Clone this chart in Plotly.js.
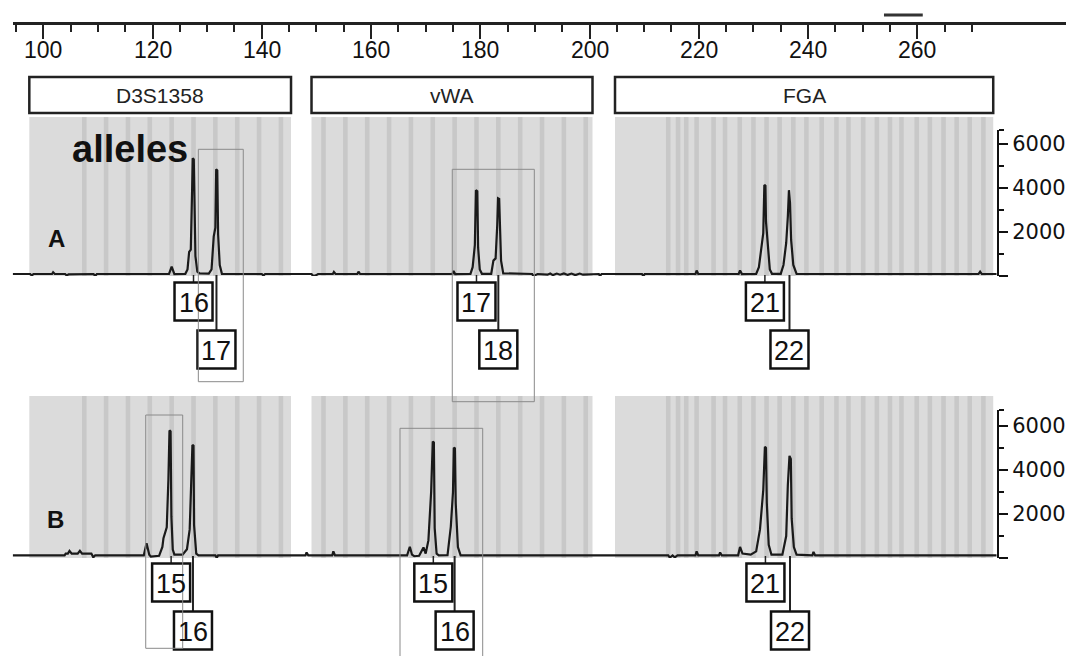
<!DOCTYPE html>
<html><head><meta charset="utf-8">
<script src="https://cdn.plot.ly/plotly-3.0.1.min.js"></script>
<style>html,body{margin:0;padding:0;background:#fff;}#chart{width:1066px;height:656px;}</style>
</head><body><div id="chart"></div>
<script>
// ================= DATA =================
const loci = ['D3S1358', 'vWA', 'FGA'];
const lociStart = [97.44, 149.1, 204.66];   // bp
const lociEnd   = [145.35, 200.54, 273.9];  // bp

const binsD3S1358 = [107.5,111.5,115.5,119.5,123.5,127.5,131.5,135.5,139.5,143.5];
const binsVWA = [151.3,155.3,159.3,163.3,167.3,171.3,175.3,179.3,183.3,187.3,191.3,195.3,199.3];
const binsFGA = [214.4,216.2,217.7,219.6,222.7,224.8,227.5,230.0,232.4,234.8,237.3,239.7,242.5,
                 245.2,247.4,250.1,252.6,255.0,257.1,259.9,262.3,264.8,267.2,269.6,272.1];

const sizeTicks = [100,120,140,160,180,200,220,240,260];
const sizeMinorTicks = [95,105,110,115,125,130,135,145,150,155,165,170,175,185,190,195,
                        205,210,215,225,230,235,245,250,255,265,270];
const rfuTicks = [0,2000,4000,6000];
const rfuTickText = ['','2000','4000','6000'];
const rfuMinorTicks = [1000,3000,5000];

// Sample A electropherogram (size in bp, signal in RFU)
const traceA_bp = [94.4,97.6,97.9,98.2,101.6,101.8,102.1,104.0,104.3,104.6,109.2,109.5,109.8,
  123.0,123.5,124.0,
  126.0,126.4,126.7,127.0,127.25,127.35,127.55,127.65,127.85,128.2,128.6,
  130.3,130.8,131.2,131.5,131.65,131.85,132.0,132.3,132.7,
  140.0,140.3,140.6,149.1,149.4,149.9,150.3,153.0,153.2,153.5,157.5,157.7,158.0,174.9,175.1,175.4,
  178.2,178.6,179.0,179.2,179.45,179.6,179.9,180.3,
  182.0,182.4,182.8,183.1,183.25,183.45,183.55,183.8,184.2,
  189.5,189.7,190.1,190.5,192.3,192.8,193.3,194.0,194.6,195.3,196.0,196.7,197.4,198.2,198.8,
  201.7,201.9,202.2,209.6,209.85,210.1,219.4,219.6,219.9,227.3,227.55,227.9,
  230.5,231.0,231.5,231.8,232.0,232.2,232.3,232.6,233.0,233.4,
  235.0,235.5,236.0,236.3,236.5,236.7,236.9,237.3,237.9,
  271.2,271.5,271.8,274.5];
const traceA_rfu = [90,90,20,90,90,170,90,90,20,70,90,0,90,
  90,420,90,
  100,300,1100,1200,4000,5350,5300,3200,900,200,120,
  110,300,1800,2200,4850,4800,1900,500,100,
  90,20,90,90,0,30,90,90,180,90,90,200,90,90,230,90,
  100,400,1400,3900,3850,1300,300,100,
  100,700,800,2300,3530,3500,2300,700,120,
  90,0,40,90,60,110,40,110,60,120,50,110,40,110,60,
  90,0,90,90,0,90,90,250,90,90,250,90,
  100,400,1500,1950,4140,4100,2470,1330,300,100,
  100,500,1500,2700,3900,3320,1640,500,100,
  90,200,90,90];

// Sample B electropherogram
const traceB_bp = [94.4,103.9,104.1,104.5,104.8,105.2,106.3,106.7,107.1,108.8,109.15,109.5,
  118.4,118.9,119.4,119.7,121.2,121.8,122.0,122.6,122.9,123.1,123.3,123.45,123.7,124.0,
  125.5,126.3,126.8,127.1,127.3,127.5,127.6,128.0,128.4,
  131.5,131.75,132.0,148.0,148.2,148.5,152.9,153.1,153.4,
  166.6,167.1,167.5,167.9,168.8,169.6,170.0,170.5,171.0,171.3,171.5,171.65,172.0,172.4,
  174.0,174.6,175.0,175.15,175.35,175.5,175.9,176.4,
  214.4,214.7,215.2,215.6,216.1,219.4,219.6,219.9,223.7,223.9,224.2,
  227.2,227.55,228.0,229.5,230.5,231.2,231.8,232.1,232.3,232.45,232.8,233.3,
  235.3,236.0,236.3,236.6,236.85,237.0,237.4,237.9,
  240.8,241.0,241.3,274.5];
const traceB_rfu = [120,120,200,200,320,200,200,330,200,200,30,120,
  120,670,150,60,100,500,900,1400,3550,5800,5750,1880,380,150,
  150,400,1300,3170,5140,5100,1500,200,120,
  120,10,120,120,250,120,120,300,120,
  120,510,150,80,100,480,200,800,3010,5290,5250,1360,200,120,
  130,1420,3000,5010,4980,2490,500,120,
  120,20,120,30,120,120,300,120,120,250,120,
  120,500,200,150,300,1300,3090,5060,5000,2500,600,150,
  150,1000,3320,4640,4500,1800,500,150,
  120,280,120,120];

// Allele calls
const callsA_bp  = [127.5, 131.7, 179.3, 183.3, 232.1, 236.6];
const callsA_lab = ['16','17','17','18','21','22'];
const callsB_bp  = [123.4, 127.4, 171.4, 175.3, 232.2, 236.7];
const callsB_lab = ['15','16','15','16','21','22'];
const callsTier  = [1,2,1,2,1,2];

// Thin highlight frames (bp spans)
const framesA = [[128.38,136.61],[174.87,189.89]];
const framesB = [[118.75,125.52],[165.30,180.44]];
const windowBar = [253.9, 261.0];

// ================= LAYOUT HELPERS =================
const W = 1066, H = 656;
const PXBP = 5.4625, PX100 = 43.3;           // x scale: px per bp, px of 100 bp
const bpAt = px => 100 + (px - PX100) / PXBP;
const py = v => 1 - v / H;                     // px(from top) -> paper
const RFUPX = 0.022;                           // px per RFU
const AX_LEFT = 12.7, AX_Y = 23;
const A = {zero: 276, top: 130, grayTop: 117, base: 274};
const B = {zero: 558, top: 410, grayTop: 396, base: 555};

const shapes = [], annotations = [];
const allBins = [binsD3S1358, binsVWA, binsFGA];
const LBL_FONT = 'Liberation Sans, Arial, sans-serif';

[A, B].forEach(P => {
  loci.forEach((l, i) => {
    shapes.push({type:'rect', layer:'below', xref:'x', yref:'paper',
      x0: lociStart[i], x1: lociEnd[i], y0: py(P.zero), y1: py(P.grayTop),
      fillcolor:'#dbdbdb', line:{width:0}});
    allBins[i].forEach(b => shapes.push({type:'rect', layer:'below', xref:'x', yref:'paper',
      x0: b - 0.42, x1: b + 0.42, y0: py(P.zero), y1: py(P.grayTop),
      fillcolor:'#c8c8c8', line:{width:0}}));
  });
});

// size-axis tick labels (below the ticks)
sizeTicks.forEach(t => annotations.push({text: String(t), xref:'x', yref:'paper', x: t, y: py(50),
  showarrow:false, xanchor:'center', yanchor:'middle',
  font:{family: LBL_FONT, size:23, color:'#111'}}));

// Locus header boxes
loci.forEach((l, i) => {
  shapes.push({type:'rect', xref:'x', yref:'paper', x0: lociStart[i], x1: lociEnd[i],
    y0: py(113), y1: py(77), fillcolor:'#ffffff', line:{color:'#222', width:2.5}});
  annotations.push({text: l, xref:'x', yref:'paper', x:(lociStart[i]+lociEnd[i])/2, y: py(95.5),
    showarrow:false, xanchor:'center', yanchor:'middle',
    font:{family: LBL_FONT, size:21, color:'#222'}});
});

// Allele call boxes
const halfBox = 19 / PXBP;
function addCalls(P, bps, labs) {
  bps.forEach((b, i) => {
    const t = callsTier[i];
    const top = P.base + (t === 1 ? 8.5 : 56.5), bot = top + 38;
    shapes.push({type:'line', xref:'x', yref:'paper', x0:b, x1:b, y0: py(P.base + 1), y1: py(top),
      line:{color:'#222', width: t === 1 ? 1.5 : 2}});
    shapes.push({type:'rect', xref:'x', yref:'paper', x0: b - halfBox, x1: b + halfBox,
      y0: py(bot), y1: py(top), fillcolor:'#ffffff', line:{color:'#111', width:2.5}});
    annotations.push({text: labs[i], xref:'x', yref:'paper', x: b, y: py((top + bot) / 2 + 1),
      showarrow:false, xanchor:'center', yanchor:'middle',
      font:{family: LBL_FONT, size:27, color:'#111'}});
  });
}
addCalls(A, callsA_bp, callsA_lab);
addCalls(B, callsB_bp, callsB_lab);

// Highlight frames
const frameY = [[149.3, 381.7],[169.3, 401.7]];
const frameYB = [[415, 648.3],[428.3, 662]];
framesA.forEach((f, i) => shapes.push({type:'rect', xref:'x', yref:'paper', x0:f[0], x1:f[1],
  y0: py(frameY[i][1]), y1: py(frameY[i][0]), line:{color:'#8a8a8a', width:1}}));
framesB.forEach((f, i) => shapes.push({type:'rect', xref:'x', yref:'paper', x0:f[0], x1:f[1],
  y0: py(frameYB[i][1]), y1: py(frameYB[i][0]), line:{color:'#8a8a8a', width:1}}));

// window bar above the size axis
shapes.push({type:'line', xref:'x', yref:'paper', x0: windowBar[0], x1: windowBar[1],
  y0: py(15), y1: py(15), line:{color:'#333', width:3}});

annotations.push({text:'<b>alleles</b>', xref:'paper', yref:'paper', x: 70/W, y: py(149),
  showarrow:false, xanchor:'left', yanchor:'middle',
  font:{family: LBL_FONT, size:38, color:'#111'}});
annotations.push({text:'<b>A</b>', xref:'paper', yref:'paper', x: 56/W, y: py(239),
  showarrow:false, xanchor:'center', yanchor:'middle',
  font:{family: LBL_FONT, size:24, color:'#111'}});
annotations.push({text:'<b>B</b>', xref:'paper', yref:'paper', x: 55/W, y: py(519),
  showarrow:false, xanchor:'center', yanchor:'middle',
  font:{family: LBL_FONT, size:24, color:'#111'}});

function rfuAxis(P) {
  const topVal = (P.zero - P.top) / RFUPX;
  return {
    domain: [py(P.zero), py(P.top)], range: [0, topVal], anchor:'free', position: 998 / W,
    side:'right', showgrid:false, zeroline:false, showline:true, linecolor:'#111', linewidth:2,
    ticks:'outside', ticklen:9, tickwidth:2, tickcolor:'#111',
    tickmode:'array', tickvals: rfuTicks, ticktext: rfuTickText,
    minor:{tickmode:'array', tickvals: rfuMinorTicks.concat([topVal]), ticklen:5, tickwidth:2,
      tickcolor:'#111', showgrid:false},
    tickfont:{family:'DejaVu Sans, sans-serif', size:21, color:'#111'},
    fixedrange:true
  };
}

const layout = {
  width: W, height: H, margin:{l:0, r:0, t:0, b:0},
  paper_bgcolor:'#ffffff', plot_bgcolor:'rgba(0,0,0,0)', showlegend:false,
  xaxis: {
    domain:[AX_LEFT / W, 1], range:[bpAt(AX_LEFT), bpAt(W)], anchor:'free', position: py(AX_Y),
    side:'bottom', showgrid:false, zeroline:false, showline:true, linecolor:'#222', linewidth:2.5,
    ticks:'outside', ticklen:14, tickwidth:2, tickcolor:'#222',
    tickmode:'array', tickvals: sizeTicks, showticklabels:false,
    minor:{tickmode:'array', tickvals: sizeMinorTicks, ticklen:7, tickwidth:2, tickcolor:'#222', showgrid:false},
    fixedrange:true
  },
  yaxis: rfuAxis(A),
  yaxis2: rfuAxis(B),
  shapes: shapes,
  annotations: annotations
};

const data = [
  {x: traceA_bp, y: traceA_rfu, xaxis:'x', yaxis:'y', type:'scatter', mode:'lines',
   line:{color:'#1a1a1a', width:2.2}, hoverinfo:'skip'},
  {x: traceB_bp, y: traceB_rfu, xaxis:'x', yaxis:'y2', type:'scatter', mode:'lines',
   line:{color:'#1a1a1a', width:2.2}, hoverinfo:'skip'}
];

Plotly.newPlot('chart', data, layout, {staticPlot:true, displayModeBar:false});
</script></body></html>
